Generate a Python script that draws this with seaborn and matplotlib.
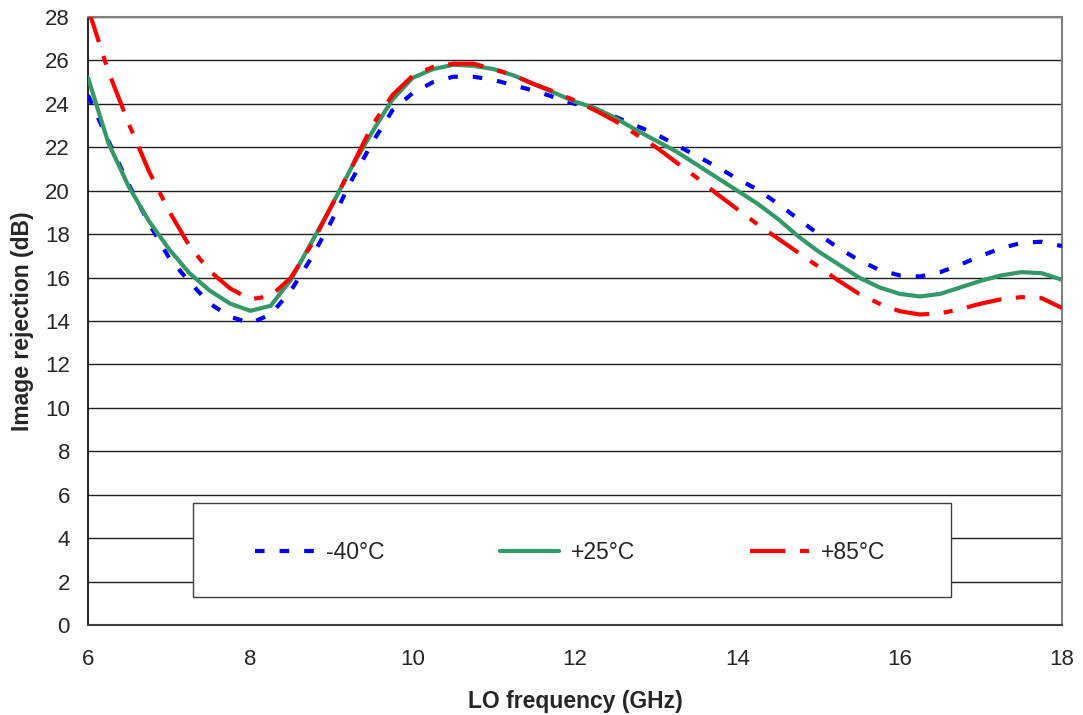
import numpy as np
import pandas as pd
import seaborn as sns
import matplotlib.pyplot as plt
from matplotlib.patches import Rectangle

# LO frequency (GHz), read every 0.25 GHz off the reference
freq = [6.0, 6.25, 6.5, 6.75, 7.0, 7.25, 7.5, 7.75, 8.0, 8.25, 8.5, 8.75,
        9.0, 9.25, 9.5, 9.75, 10.0, 10.25, 10.5, 10.75, 11.0, 11.25, 11.5, 11.75,
        12.0, 12.25, 12.5, 12.75, 13.0, 13.25, 13.5, 13.75, 14.0, 14.25, 14.5, 14.75,
        15.0, 15.25, 15.5, 15.75, 16.0, 16.25, 16.5, 16.75, 17.0, 17.25, 17.5, 17.75, 18.0]

ir_m40 = [24.4, 22.3, 20.3, 18.5, 16.9, 15.8, 14.8, 14.2, 13.9, 14.3, 15.4, 16.9,
          18.6, 20.5, 22.2, 23.7, 24.5, 25.0, 25.25, 25.25, 25.1, 24.85, 24.6, 24.3,
          24.0, 23.75, 23.4, 23.0, 22.6, 22.1, 21.6, 21.1, 20.55, 20.05, 19.4, 18.7,
          18.0, 17.35, 16.8, 16.35, 16.1, 16.05, 16.25, 16.6, 17.0, 17.35, 17.6, 17.65, 17.45]

ir_p25 = [25.2, 22.2, 20.2, 18.6, 17.3, 16.2, 15.4, 14.8, 14.47, 14.7, 15.9, 17.6,
          19.3, 21.1, 22.7, 24.2, 25.2, 25.6, 25.8, 25.75, 25.6, 25.3, 24.9, 24.5,
          24.1, 23.8, 23.35, 22.8, 22.3, 21.8, 21.2, 20.6, 20.0, 19.4, 18.7, 17.9,
          17.2, 16.6, 16.0, 15.55, 15.25, 15.13, 15.25, 15.55, 15.85, 16.1, 16.25, 16.2, 15.9]

ir_p85 = [28.4, 25.5, 23.1, 20.9, 19.05, 17.45, 16.3, 15.5, 15.0, 15.15, 16.0, 17.5,
          19.3, 21.1, 23.0, 24.4, 25.3, 25.7, 25.85, 25.85, 25.6, 25.3, 24.9, 24.55,
          24.15, 23.7, 23.2, 22.6, 22.0, 21.3, 20.6, 19.85, 19.15, 18.45, 17.8, 17.15,
          16.5, 15.85, 15.25, 14.8, 14.45, 14.3, 14.35, 14.55, 14.8, 15.0, 15.1, 15.05, 14.6]

labels = ['-40°C', '+25°C', '+85°C']
colors = ['#0000FF', '#339966', '#FF0000']
styles = [(0, (2.3, 3.6)), '-', (0, (8.5, 3.5, 2.2, 3.5))]

sns.set_style('white')
plt.rcParams['font.family'] = ['Liberation Sans', 'DejaVu Sans']

fig = plt.figure(figsize=(10.83, 7.15), dpi=100)
ax = fig.add_axes([0.0813, 0.1259, 0.8993, 0.8503])

for vals, lab, col, ls in zip([ir_m40, ir_p25, ir_p85], labels, colors, styles):
    df = pd.DataFrame({'f': freq, 'ir': vals})
    sns.lineplot(data=df, x='f', y='ir', ax=ax, color=col, linestyle=ls,
                 linewidth=3.0, label=lab, errorbar=None, zorder=3)

ax.set_xlim(6, 18)
ax.set_ylim(0, 28)
ax.set_xticks(range(6, 19, 2))
ax.set_yticks(range(0, 29, 2))
ax.yaxis.grid(True, color='#202020', linewidth=1.0)
ax.xaxis.grid(False)
ax.set_axisbelow(True)

ax.tick_params(axis='x', direction='in', length=6, width=1, color='#404040',
               pad=17, labelsize=16)
ax.tick_params(axis='y', length=0, pad=13, labelsize=16)

for s in ['top', 'right']:
    ax.spines[s].set_color('#808080')
    ax.spines[s].set_linewidth(1.5)
ax.spines['left'].set_color('#000000')
ax.spines['left'].set_linewidth(1.2)
ax.spines['bottom'].set_color('#404040')
ax.spines['bottom'].set_linewidth(1.5)

ax.set_xlabel('LO frequency (GHz)', fontsize=16.5, fontweight='bold', labelpad=15)
ax.set_ylabel('Image rejection (dB)', fontsize=16.5, fontweight='bold', labelpad=8)

# legend frame like the Excel box
ax.add_patch(Rectangle((0.108, 0.046), 0.778, 0.155, transform=ax.transAxes,
                       facecolor='white', edgecolor='#404040', linewidth=1.0, zorder=2))
ax.legend(loc='center', bbox_to_anchor=(0.1715, 0.10, 0.647, 0.04), mode='expand',
          ncol=3, frameon=False, fontsize=16.5, handlelength=2.6, handletextpad=0.5,
          borderpad=0, borderaxespad=0)

fig.savefig('out.png', dpi=100)
